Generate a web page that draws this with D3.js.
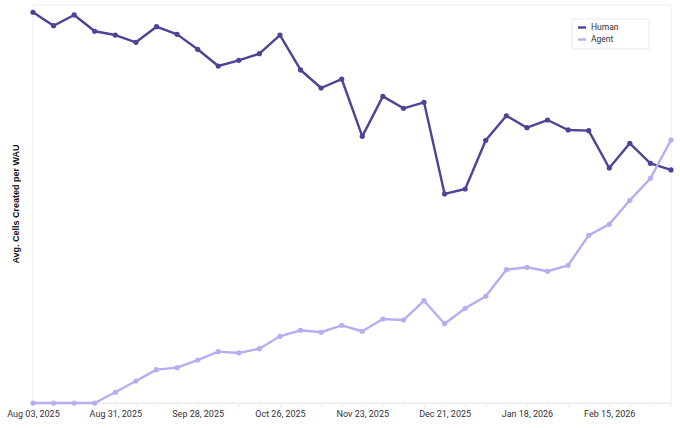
<!DOCTYPE html>
<html>
<head>
<meta charset="utf-8">
<script src="https://cdn.jsdelivr.net/npm/d3@7"></script>
<style>
  body { margin: 0; background: #fff; }
  text { font-family: Roboto, "Open Sans", sans-serif; }
</style>
</head>
<body>
<div id="my_dataviz"></div>
<script>
// weekly data, Aug 03 2025 .. Mar 08 2026
var startWeek = "2025-08-03";
var weekCount = 32;

var humanValues = [39.27, 37.92, 39.0, 37.36, 36.98, 36.25, 37.82, 37.05, 35.55, 33.87,
    34.44, 35.11, 36.98, 33.47, 31.66, 32.56, 26.8, 30.82, 29.62, 30.22,
    21.01, 21.51, 26.4, 28.87, 27.67, 28.44, 27.44, 27.37, 23.62, 26.1,
    24.09, 23.42];

var agentValues = [0, 0, 0, 0, 1.08, 2.21, 3.35, 3.55, 4.32, 5.16,
    5.03, 5.46, 6.7, 7.31, 7.11, 7.81, 7.21, 8.44, 8.34, 10.28,
    7.97, 9.52, 10.72, 13.4, 13.64, 13.24, 13.84, 16.85, 17.96, 20.37,
    22.58, 26.43];

var seriesNames = ["Human", "Agent"];
var seriesColors = ["#4e4394", "#b8adf1"];

var parseDate = d3.timeParse("%Y-%m-%d");
var weeks = d3.range(weekCount).map(function (i) { return d3.timeWeek.offset(parseDate(startWeek), i); });

// set the dimensions and margins of the graph
var margin = { top: 5, right: 9, bottom: 25, left: 33 },
    width = 680 - margin.left - margin.right,
    height = 428 - margin.top - margin.bottom;

var svg = d3.select("#my_dataviz")
    .append("svg")
    .attr("width", width + margin.left + margin.right)
    .attr("height", height + margin.top + margin.bottom)
    .append("g")
    .attr("transform", "translate(" + margin.left + "," + margin.top + ")");

var x = d3.scaleTime()
    .domain([weeks[0], weeks[weeks.length - 1]])
    .range([0, width]);

var y = d3.scaleLinear()
    .domain([0, 40])
    .range([height, 0]);

// light frame
svg.append("rect")
    .attr("x", 0).attr("y", 0)
    .attr("width", width).attr("height", height)
    .attr("fill", "none")
    .attr("stroke", "#f0f0f2")
    .attr("stroke-width", 1.2);

// X axis: small ticks every week, labels every 4 weeks
var xAxis = svg.append("g")
    .attr("transform", "translate(0," + height + ")")
    .call(d3.axisBottom(x)
        .tickValues(weeks)
        .tickSize(4)
        .tickFormat(function (d, i) { return i % 4 == 0 ? d3.timeFormat("%b %d, %Y")(d) : ""; }));

xAxis.select(".domain").attr("stroke", "#ebebef");
xAxis.selectAll(".tick line").attr("stroke", "#ebebef");
xAxis.selectAll(".tick text")
    .attr("fill", "#333")
    .attr("dy", "0.75em")
    .style("font-size", "9px");

// Y axis label
svg.append("text")
    .attr("text-anchor", "middle")
    .attr("transform", "rotate(-90)")
    .attr("x", -199)
    .attr("y", -14)
    .style("font-family", "'Liberation Sans', Arial, sans-serif")
    .style("font-size", "9px")
    .style("font-weight", "bold")
    .attr("fill", "#111")
    .text("Avg. Cells Created per WAU");

// lines + points
var allSeries = [humanValues, agentValues];
var line = d3.line()
    .x(function (d, i) { return x(weeks[i]); })
    .y(function (d) { return y(d); });

// human first, agent drawn over it where they cross at the right edge
[0, 1].forEach(function (s) {
    svg.append("path")
        .datum(allSeries[s])
        .attr("fill", "none")
        .attr("stroke", seriesColors[s])
        .attr("stroke-width", 2.4)
        .attr("stroke-linejoin", "round")
        .attr("d", line);

    svg.selectAll(".pt" + s)
        .data(allSeries[s])
        .enter()
        .append("circle")
        .attr("class", "pt" + s)
        .attr("cx", function (d, i) { return x(weeks[i]); })
        .attr("cy", function (d) { return y(d); })
        .attr("r", 2.6)
        .attr("fill", seriesColors[s]);
});

// legend
var legend = svg.append("g")
    .attr("transform", "translate(" + (572 - margin.left) + "," + (19 - margin.top) + ")");

legend.append("rect")
    .attr("width", 77)
    .attr("height", 30)
    .attr("fill", "#fff")
    .attr("stroke", "#ececf0");

seriesNames.forEach(function (name, i) {
    legend.append("line")
        .attr("x1", 6).attr("x2", 14)
        .attr("y1", 8.5 + i * 12).attr("y2", 8.5 + i * 12)
        .attr("stroke", seriesColors[i])
        .attr("stroke-width", 2.4);
    legend.append("text")
        .attr("x", 19)
        .attr("y", 8.5 + i * 12)
        .attr("dy", "0.35em")
        .style("font-size", "8.5px")
        .attr("fill", "#333")
        .text(name);
});
</script>
</body>
</html>
